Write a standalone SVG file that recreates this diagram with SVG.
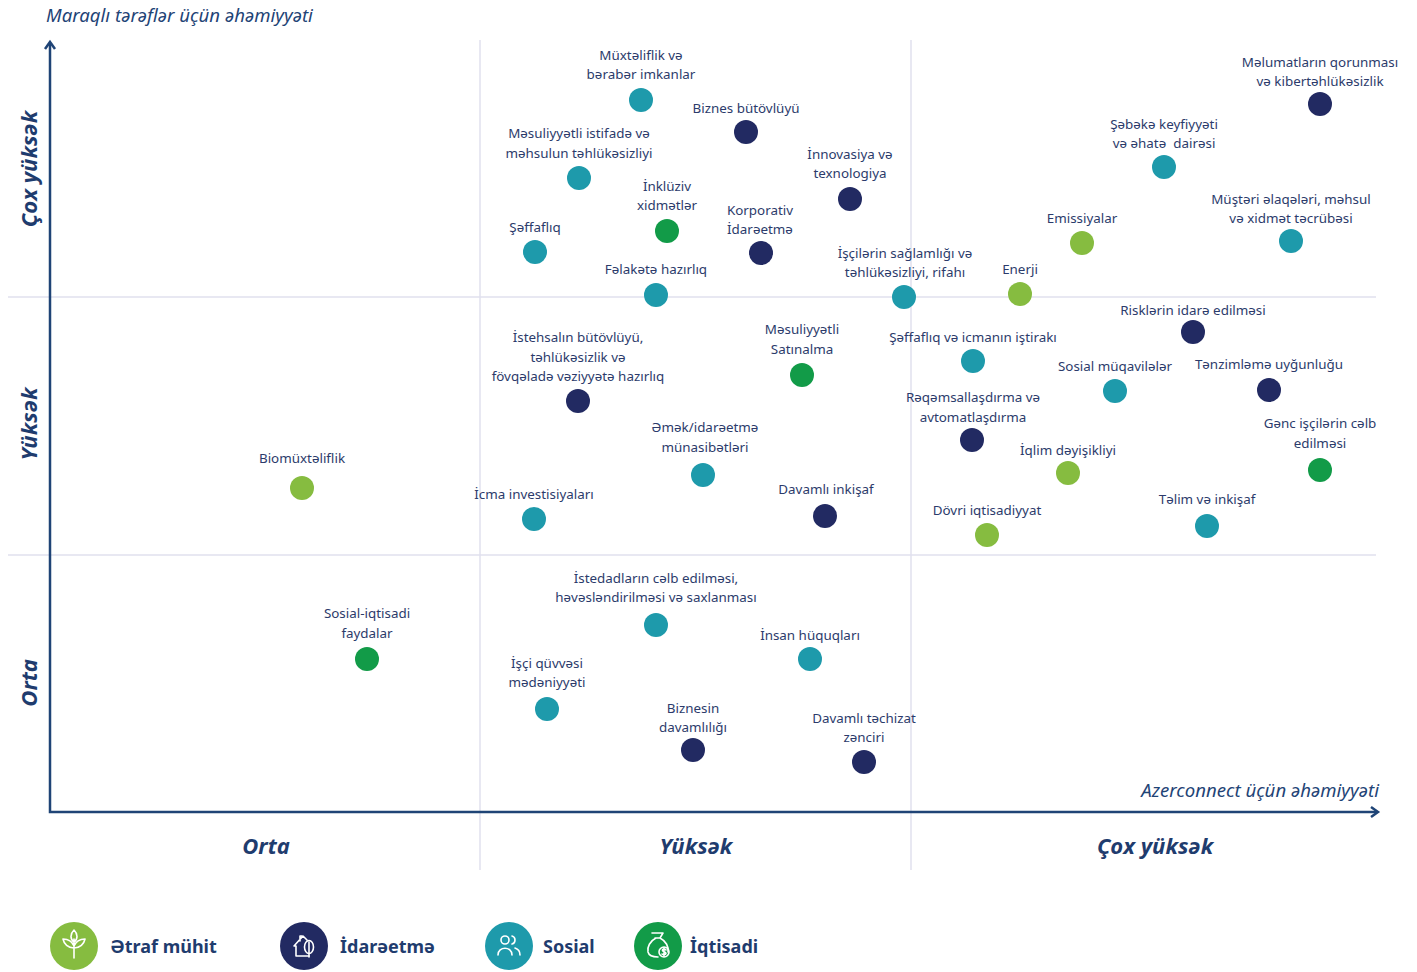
<svg xmlns="http://www.w3.org/2000/svg" width="1417" height="972" viewBox="0 0 1417 972">
<style>
.bg{fill:#ffffff}
.grid{stroke:#e1e1ee;stroke-width:1.5;fill:none}
.axis{stroke:#1f4476;stroke-width:2.5;fill:none}
.lbl{font-family:"Noto Sans","DejaVu Sans",sans-serif;font-size:13.4px;fill:#2c3b6b;text-anchor:middle}
.ttl{font-family:"Noto Sans","DejaVu Sans",sans-serif;font-size:18.6px;font-style:italic;fill:#1f4476}
.lev{font-family:"Noto Sans","DejaVu Sans",sans-serif;font-size:22px;font-weight:bold;font-style:italic;fill:#1f3c6e;text-anchor:middle}
.leg{font-family:"Noto Sans","DejaVu Sans",sans-serif;font-size:18px;font-weight:bold;fill:#1f3c6e}
.env{fill:#86bc40}
.gov{fill:#222a62}
.soc{fill:#1e9aab}
.eco{fill:#129b48}
.ico{fill:none;stroke:#ffffff;stroke-width:1.6;stroke-linecap:round;stroke-linejoin:round}
</style>
<rect class="bg" x="0" y="0" width="1417" height="972"/>
<g id="grid">
<line class="grid" x1="480" y1="40" x2="480" y2="870"/>
<line class="grid" x1="911" y1="40" x2="911" y2="870"/>
<line class="grid" x1="8" y1="297" x2="1376" y2="297"/>
<line class="grid" x1="8" y1="555" x2="1376" y2="555"/>
</g>
<g id="axes">
<polyline class="axis" points="50,44 50,812 1377,812"/>
<polyline class="axis" points="45,49 50,42 55,49"/>
<polyline class="axis" points="1371,807 1378,812 1371,817"/>
<text class="ttl" x="46" y="22">Maraqlı tərəflər üçün əhəmiyyəti</text>
<text class="ttl" x="1379" y="797" text-anchor="end">Azerconnect üçün əhəmiyyəti</text>
<text class="lev" transform="translate(37,169) rotate(-90)">Çox yüksək</text>
<text class="lev" transform="translate(37,424) rotate(-90)">Yüksək</text>
<text class="lev" transform="translate(37,683) rotate(-90)">Orta</text>
<text class="lev" x="266" y="854">Orta</text>
<text class="lev" x="696" y="854">Yüksək</text>
<text class="lev" x="1155" y="854">Çox yüksək</text>
</g>
<g id="nodes">
<g id="n1"><circle class="soc" cx="641" cy="100" r="12"/><text class="lbl" x="641" y="60">Müxtəliflik və</text><text class="lbl" x="641" y="79">bərabər imkanlar</text></g>
<g id="n2"><circle class="gov" cx="746" cy="132" r="12"/><text class="lbl" x="746" y="113">Biznes bütövlüyü</text></g>
<g id="n3"><circle class="soc" cx="579" cy="178" r="12"/><text class="lbl" x="579" y="138">Məsuliyyətli istifadə və</text><text class="lbl" x="579" y="158">məhsulun təhlükəsizliyi</text></g>
<g id="n4"><circle class="gov" cx="850" cy="199" r="12"/><text class="lbl" x="850" y="159">İnnovasiya və</text><text class="lbl" x="850" y="178">texnologiya</text></g>
<g id="n5"><circle class="eco" cx="667" cy="231" r="12"/><text class="lbl" x="667" y="191">İnklüziv</text><text class="lbl" x="667" y="210">xidmətlər</text></g>
<g id="n6"><circle class="gov" cx="761" cy="253" r="12"/><text class="lbl" x="760" y="215">Korporativ</text><text class="lbl" x="760" y="234">İdarəetmə</text></g>
<g id="n7"><circle class="soc" cx="535" cy="252" r="12"/><text class="lbl" x="535" y="232">Şəffaflıq</text></g>
<g id="n8"><circle class="soc" cx="656" cy="295" r="12"/><text class="lbl" x="656" y="274">Fəlakətə hazırlıq</text></g>
<g id="n9"><circle class="soc" cx="904" cy="297" r="12"/><text class="lbl" x="905" y="258">İşçilərin sağlamlığı və</text><text class="lbl" x="905" y="277">təhlükəsizliyi, rifahı</text></g>
<g id="n10"><circle class="env" cx="1020" cy="294" r="12"/><text class="lbl" x="1020" y="274">Enerji</text></g>
<g id="n11"><circle class="env" cx="1082" cy="243" r="12"/><text class="lbl" x="1082" y="223">Emissiyalar</text></g>
<g id="n12"><circle class="soc" cx="1164" cy="167" r="12"/><text class="lbl" x="1164" y="129">Şəbəkə keyfiyyəti</text><text class="lbl" x="1164" y="148" xml:space="preserve">və əhatə  dairəsi</text></g>
<g id="n13"><circle class="gov" cx="1320" cy="104" r="12"/><text class="lbl" x="1320" y="67">Məlumatların qorunması</text><text class="lbl" x="1320" y="86">və kibertəhlükəsizlik</text></g>
<g id="n14"><circle class="soc" cx="1291" cy="241" r="12"/><text class="lbl" x="1291" y="204">Müştəri əlaqələri, məhsul</text><text class="lbl" x="1291" y="223">və xidmət təcrübəsi</text></g>
<g id="n15"><circle class="gov" cx="1193" cy="332" r="12"/><text class="lbl" x="1193" y="315">Risklərin idarə edilməsi</text></g>
<g id="n16"><circle class="soc" cx="973" cy="361" r="12"/><text class="lbl" x="973" y="342">Şəffaflıq və icmanın iştirakı</text></g>
<g id="n17"><circle class="soc" cx="1115" cy="391" r="12"/><text class="lbl" x="1115" y="371">Sosial müqavilələr</text></g>
<g id="n18"><circle class="gov" cx="1269" cy="390" r="12"/><text class="lbl" x="1269" y="369">Tənzimləmə uyğunluğu</text></g>
<g id="n19"><circle class="gov" cx="972" cy="440" r="12"/><text class="lbl" x="973" y="402">Rəqəmsallaşdırma və</text><text class="lbl" x="973" y="422">avtomatlaşdırma</text></g>
<g id="n20"><circle class="env" cx="1068" cy="473" r="12"/><text class="lbl" x="1068" y="455">İqlim dəyişikliyi</text></g>
<g id="n21"><circle class="eco" cx="1320" cy="470" r="12"/><text class="lbl" x="1320" y="428">Gənc işçilərin cəlb</text><text class="lbl" x="1320" y="448">edilməsi</text></g>
<g id="n22"><circle class="soc" cx="1207" cy="526" r="12"/><text class="lbl" x="1207" y="504">Təlim və inkişaf</text></g>
<g id="n23"><circle class="env" cx="987" cy="535" r="12"/><text class="lbl" x="987" y="515">Dövri iqtisadiyyat</text></g>
<g id="n24"><circle class="gov" cx="825" cy="516" r="12"/><text class="lbl" x="826" y="494">Davamlı inkişaf</text></g>
<g id="n25"><circle class="soc" cx="703" cy="475" r="12"/><text class="lbl" x="705" y="432">Əmək/idarəetmə</text><text class="lbl" x="705" y="452">münasibətləri</text></g>
<g id="n26"><circle class="eco" cx="802" cy="375" r="12"/><text class="lbl" x="802" y="334">Məsuliyyətli</text><text class="lbl" x="802" y="354">Satınalma</text></g>
<g id="n27"><circle class="gov" cx="578" cy="401" r="12"/><text class="lbl" x="578" y="342">İstehsalın bütövlüyü,</text><text class="lbl" x="578" y="362">təhlükəsizlik və</text><text class="lbl" x="578" y="381">fövqəladə vəziyyətə hazırlıq</text></g>
<g id="n28"><circle class="soc" cx="534" cy="519" r="12"/><text class="lbl" x="534" y="499">İcma investisiyaları</text></g>
<g id="n29"><circle class="env" cx="302" cy="488" r="12"/><text class="lbl" x="302" y="463">Biomüxtəliflik</text></g>
<g id="n30"><circle class="eco" cx="367" cy="659" r="12"/><text class="lbl" x="367" y="618">Sosial-iqtisadi</text><text class="lbl" x="367" y="638">faydalar</text></g>
<g id="n31"><circle class="soc" cx="656" cy="625" r="12"/><text class="lbl" x="656" y="583">İstedadların cəlb edilməsi,</text><text class="lbl" x="656" y="602">həvəsləndirilməsi və saxlanması</text></g>
<g id="n32"><circle class="soc" cx="810" cy="659" r="12"/><text class="lbl" x="810" y="640">İnsan hüquqları</text></g>
<g id="n33"><circle class="soc" cx="547" cy="709" r="12"/><text class="lbl" x="547" y="668">İşçi qüvvəsi</text><text class="lbl" x="547" y="687">mədəniyyəti</text></g>
<g id="n34"><circle class="gov" cx="693" cy="750" r="12"/><text class="lbl" x="693" y="713">Biznesin</text><text class="lbl" x="693" y="732">davamlılığı</text></g>
<g id="n35"><circle class="gov" cx="864" cy="762" r="12"/><text class="lbl" x="864" y="723">Davamlı təchizat</text><text class="lbl" x="864" y="742">zənciri</text></g>
</g>
<g id="legend">
<g id="leg-env"><circle class="env" cx="74" cy="946" r="24"/>
<path class="ico" d="M74,958 V939 M74,948 C68,948 64,944 63,939 C68,939 72,941 74,946 M74,948 C80,948 84,944 85,939 C80,939 76,941 74,946 M74,942 C70,939 70,934 74,930 C78,934 78,939 74,942"/>
<text class="leg" x="110" y="953">Ətraf mühit</text></g>
<g id="leg-gov"><circle class="gov" cx="304" cy="946" r="24"/>
<path class="ico" d="M296,946 L294,946 L303,936 L307,940 M300,941 V936 H302 M296,946 V956 H306 M306,956 H309"/>
<ellipse class="ico" cx="309" cy="947" rx="4.5" ry="6.5"/>
<path class="ico" d="M309,942 V957"/>
<text class="leg" x="340" y="953">İdarəetmə</text></g>
<g id="leg-soc"><circle class="soc" cx="509" cy="946" r="24"/>
<circle class="ico" cx="505" cy="940" r="4"/>
<path class="ico" d="M512,936 C516,937 516,943 512,944 M498,955 C498,946 512,946 512,955 M515,948 C518,949 520,952 520,955"/>
<text class="leg" x="543" y="953">Sosial</text></g>
<g id="leg-eco"><circle class="eco" cx="658" cy="946" r="24"/>
<path class="ico" d="M652,933 H663 L660,938 C666,941 669,947 668,952 M656,938 C650,941 647,947 648,952 C649,956 652,957 658,957 M655,938 H660"/>
<circle class="ico" cx="664" cy="952" r="5"/>
<path class="ico" d="M666,950 C665,948.5 662,948.8 662.5,950.5 C663,952 666,951.5 666,953.5 C665.5,955 663,955 662,954 M664,947.5 V956.5"/>
<text class="leg" x="690" y="953">İqtisadi</text></g>
</g>
</svg>
